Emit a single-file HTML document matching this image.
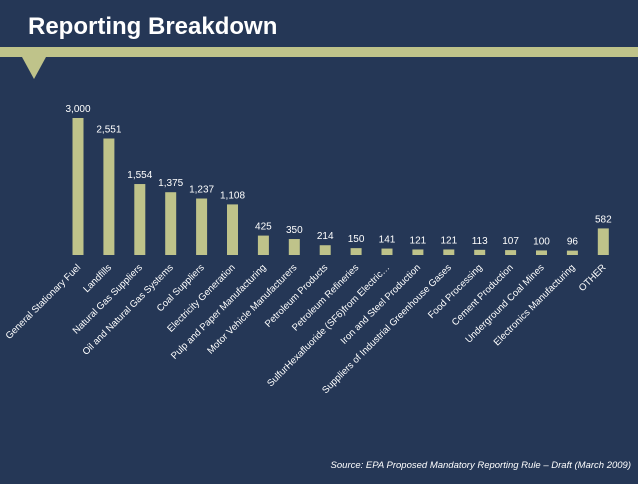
<!DOCTYPE html>
<html><head><meta charset="utf-8"><style>
body{margin:0;background:#253756;width:638px;height:479px;overflow:hidden;font-family:"Liberation Sans",sans-serif}
</style></head><body>
<svg width="638" height="479">
<rect width="638" height="479" fill="#253756"/>
<text x="28" y="34" fill="#fff" font-size="24" font-weight="bold">Reporting Breakdown</text>
<rect x="0" y="47" width="638" height="10" fill="#bfc38a"/>
<polygon points="22,57 46,57 34,79" fill="#bfc38a"/>
<g id="plot"></g>
<text x="631" y="468" fill="#fff" font-size="9.5" font-style="italic" text-anchor="end">Source: EPA Proposed Mandatory Reporting Rule – Draft (March 2009)</text>
</svg>
<script>
const categories=["General Stationary Fuel","Landfills","Natural Gas Suppliers","Oil and Natural Gas Systems","Coal Suppliers","Electricity Generation","Pulp and Paper Manufacturing","Motor Vehicle Manufacturers","Petroleum Products","Petroleum Refineries","SulfurHexafluoride (SF6)from Electric…","Iron and Steel Production","Suppliers of Industrial Greenhouse Gases","Food Processing","Cement Production","Underground Coal Mines","Electronics Manufacturing","OTHER"];
const values=[3000,2551,1554,1375,1237,1108,425,350,214,150,141,121,121,113,107,100,96,582];
const valueLabels=["3,000","2,551","1,554","1,375","1,237","1,108","425","350","214","150","141","121","121","113","107","100","96","582"];
const NS="http://www.w3.org/2000/svg";
const g=document.getElementById('plot');
const x0=78,step=30.9,base=255,scale=137/3000,bw=11;
const xs=i=>x0+i*step, ys=v=>base-v*scale;
function mk(t,a){const e=document.createElementNS(NS,t);for(const k in a)e.setAttribute(k,a[k]);g.appendChild(e);return e;}
values.forEach((v,i)=>{
  const r=mk('rect',{x:xs(i)-bw/2,y:ys(v),width:bw,height:base-ys(v),fill:'#bfc38a'});
  
  
  const t=mk('text',{x:xs(i),y:ys(v)-6,fill:'#fff','font-size':10,'text-anchor':'middle'});
  t.textContent=valueLabels[i];
  
  
  const lx=xs(i)+3, ly=base+13;
  const c=mk('text',{x:lx,y:ly,fill:'#fff','font-size':9.6,'text-anchor':'end',transform:`rotate(-45 ${lx} ${ly})`});
  c.textContent=categories[i];
  
  
});
</script>
</body></html>
